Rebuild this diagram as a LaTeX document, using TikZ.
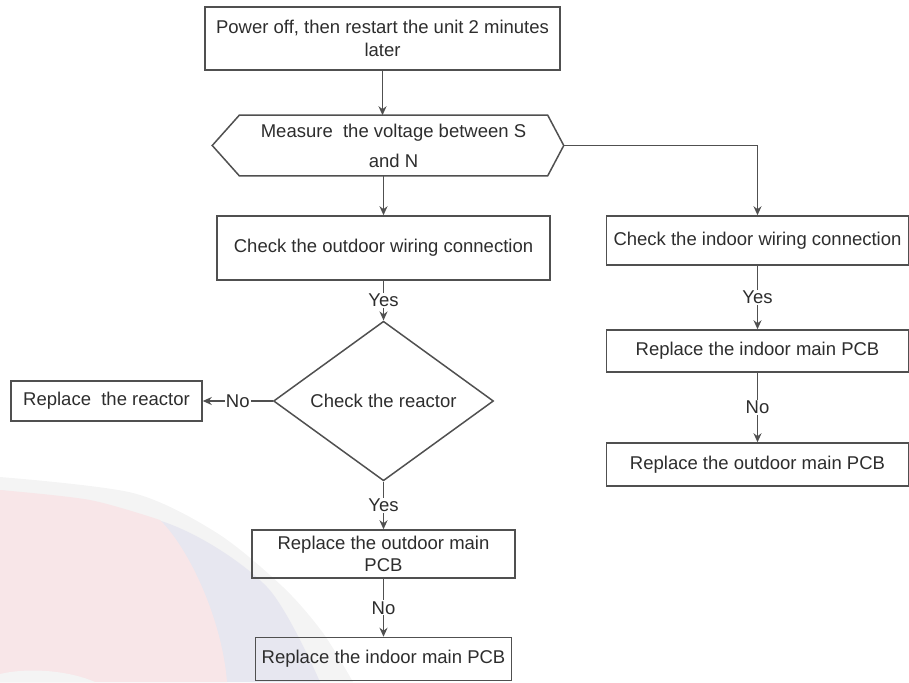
\documentclass[tikz,border=0pt]{standalone}
\usepackage{fontspec}
\setmainfont{Liberation Sans}
\usepackage{tikz}
\usetikzlibrary{arrows.meta,shapes.geometric}

\definecolor{linegrey}{RGB}{80,80,80}
\definecolor{textgrey}{RGB}{45,45,45}
\definecolor{wmgrey}{RGB}{244,244,244}
\definecolor{wmpink}{RGB}{248,230,232}
\definecolor{wmlav}{RGB}{231,231,240}

\begin{document}
\begin{tikzpicture}[x=1pt,y=-1pt,>={Stealth[length=9pt,width=8pt]},
                    line width=1.5pt,draw=linegrey,
                    font=\fontsize{18.5}{22.5}\selectfont]

  \tikzstyle{box}=[rectangle,draw=linegrey,text=textgrey,align=center,inner sep=2pt]
  \tikzstyle{ask}=[diamond,draw=linegrey,text=textgrey,inner sep=0pt,
                   minimum width=220pt,minimum height=132pt]
  \tikzstyle{lbl}=[fill=white,text=textgrey,inner sep=1pt]

  \useasboundingbox (0,0) rectangle (909,682);

  \fill[wmgrey] plot[smooth] coordinates {(0,477) (133,493) (217,533) (283,587) (323,633) (353,682)}
    -- (0,682) -- cycle;
  \fill[wmlav] plot[smooth] coordinates {(0,490) (167,523) (267,587) (320,682)}
    -- (0,682) -- cycle;
  \fill[wmpink] plot[smooth] coordinates {(0,490) (90,500) (160,520)}
    .. controls (190,550) and (222,620) .. (227,682) -- (0,682) -- cycle;
  \fill[wmgrey] (0,674) .. controls (30,667) and (70,671) .. (95,682) -- (0,682) -- cycle;

  \node[box,minimum width=355pt,minimum height=63pt] (pwr) at (382.5,38.5)
    {Power off, then restart the unit 2 minutes\\later};
  \node[rectangle,text=textgrey,align=center,minimum width=307pt,minimum height=59pt,
        font=\fontsize{18.5}{30}\selectfont]
    (meas) [below of=pwr,node distance=107pt,xshift=11pt]
    {Measure\ \ the voltage between S\\and N};
  \coordinate (measL) at ([xshift=-27pt]meas.west);
  \coordinate (measR) at ([xshift=16pt]meas.east);
  \draw (measL) -- (meas.north west) -- (meas.north east) -- (measR)
    -- (meas.south east) -- (meas.south west) -- cycle;

  \node[box,minimum width=333pt,minimum height=64pt] (chkout) [below of=meas,node distance=102.5pt,xshift=-10pt]
    {Check the outdoor wiring connection};
  \node[ask] (reac) [below of=chkout,node distance=153pt] {Check the reactor};
  \node[box,minimum width=191pt,minimum height=40pt] (rrep) [left of=reac,node distance=277pt]
    {Replace\ \ the reactor};
  \node[box,minimum width=263pt,minimum height=48pt] (outpcb) [below of=reac,node distance=153pt]
    {Replace the outdoor main\\PCB};
  \node[box,minimum width=256pt,minimum height=43pt] (inpcb) [below of=outpcb,node distance=105pt]
    {Replace the indoor main PCB};

  \node[box,minimum width=302.5pt,minimum height=49pt] (chkin) at (757.5,240.5)
    {Check the indoor wiring connection};
  \node[box,minimum width=302.5pt,minimum height=42pt] (inpcbR) [below of=chkin,node distance=110.5pt]
    {Replace the indoor main PCB};
  \node[box,minimum width=302.5pt,minimum height=43pt] (outpcbR) [below of=inpcbR,node distance=113.5pt]
    {Replace the outdoor main PCB};

  \draw[->] (pwr) -- (pwr |- meas.north);
  \draw[->] (meas.south -| chkout) -- (chkout);
  \draw[->] (measR) -| (chkin);
  \draw[->] (chkout) -- node[lbl] {Yes} (reac);
  \draw[->] (reac) -- node[lbl] {No} (rrep);
  \draw[->] (reac) -- node[lbl] {Yes} (outpcb);
  \draw[->] (outpcb) -- node[lbl] {No} (inpcb);
  \draw[->] (chkin) -- node[lbl] {Yes} (inpcbR);
  \draw[->] (inpcbR) -- node[lbl] {No} (outpcbR);
\end{tikzpicture}
\end{document}
